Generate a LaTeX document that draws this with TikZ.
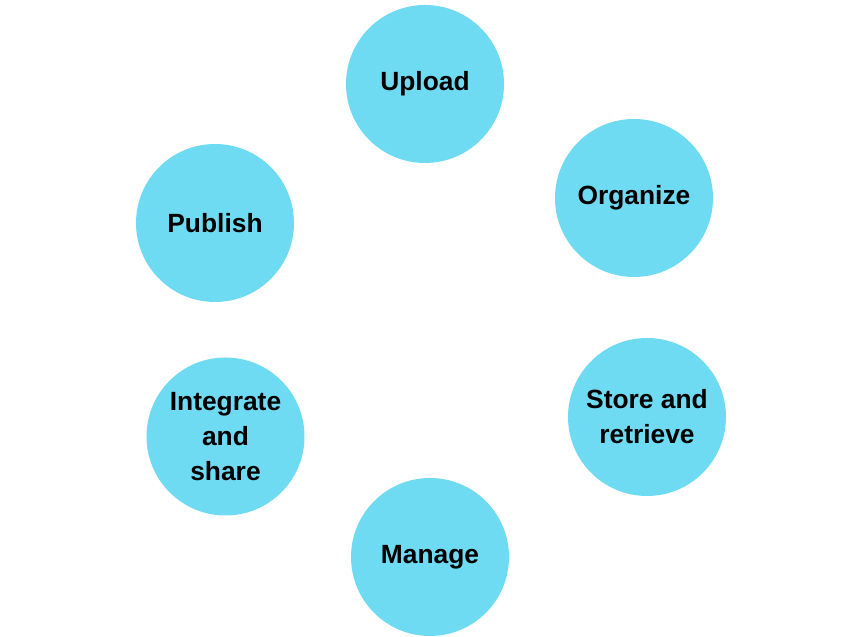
\documentclass[tikz,border=0pt]{standalone}
\usepackage{fontspec}
\setmainfont{Liberation Sans}
\definecolor{stepcyan}{HTML}{6FDBF3}
\tikzset{
  stage/.style={circle, fill=stepcyan, minimum size=3.16cm, inner sep=0pt,
    align=center, font=\bfseries\fontsize{15}{20}\selectfont}
}
\begin{document}
\begin{tikzpicture}
\useasboundingbox (0,0) rectangle (17,12.74);

% Cycle stages
\node[stage] (upload) at (8.5,11.06) {Upload};
\node[stage] (organize) at (12.68,8.78) {Organize};
\node[stage] (store) at (12.94,4.40) {Store and\\retrieve};
\node[stage] (manage) at (8.6,1.6) {Manage};
\node[stage] (integrate) at (4.51,4.01) {Integrate\\and\\share};
\node[stage] (publish) at (4.3,8.28) {Publish};
\end{tikzpicture}
\end{document}
